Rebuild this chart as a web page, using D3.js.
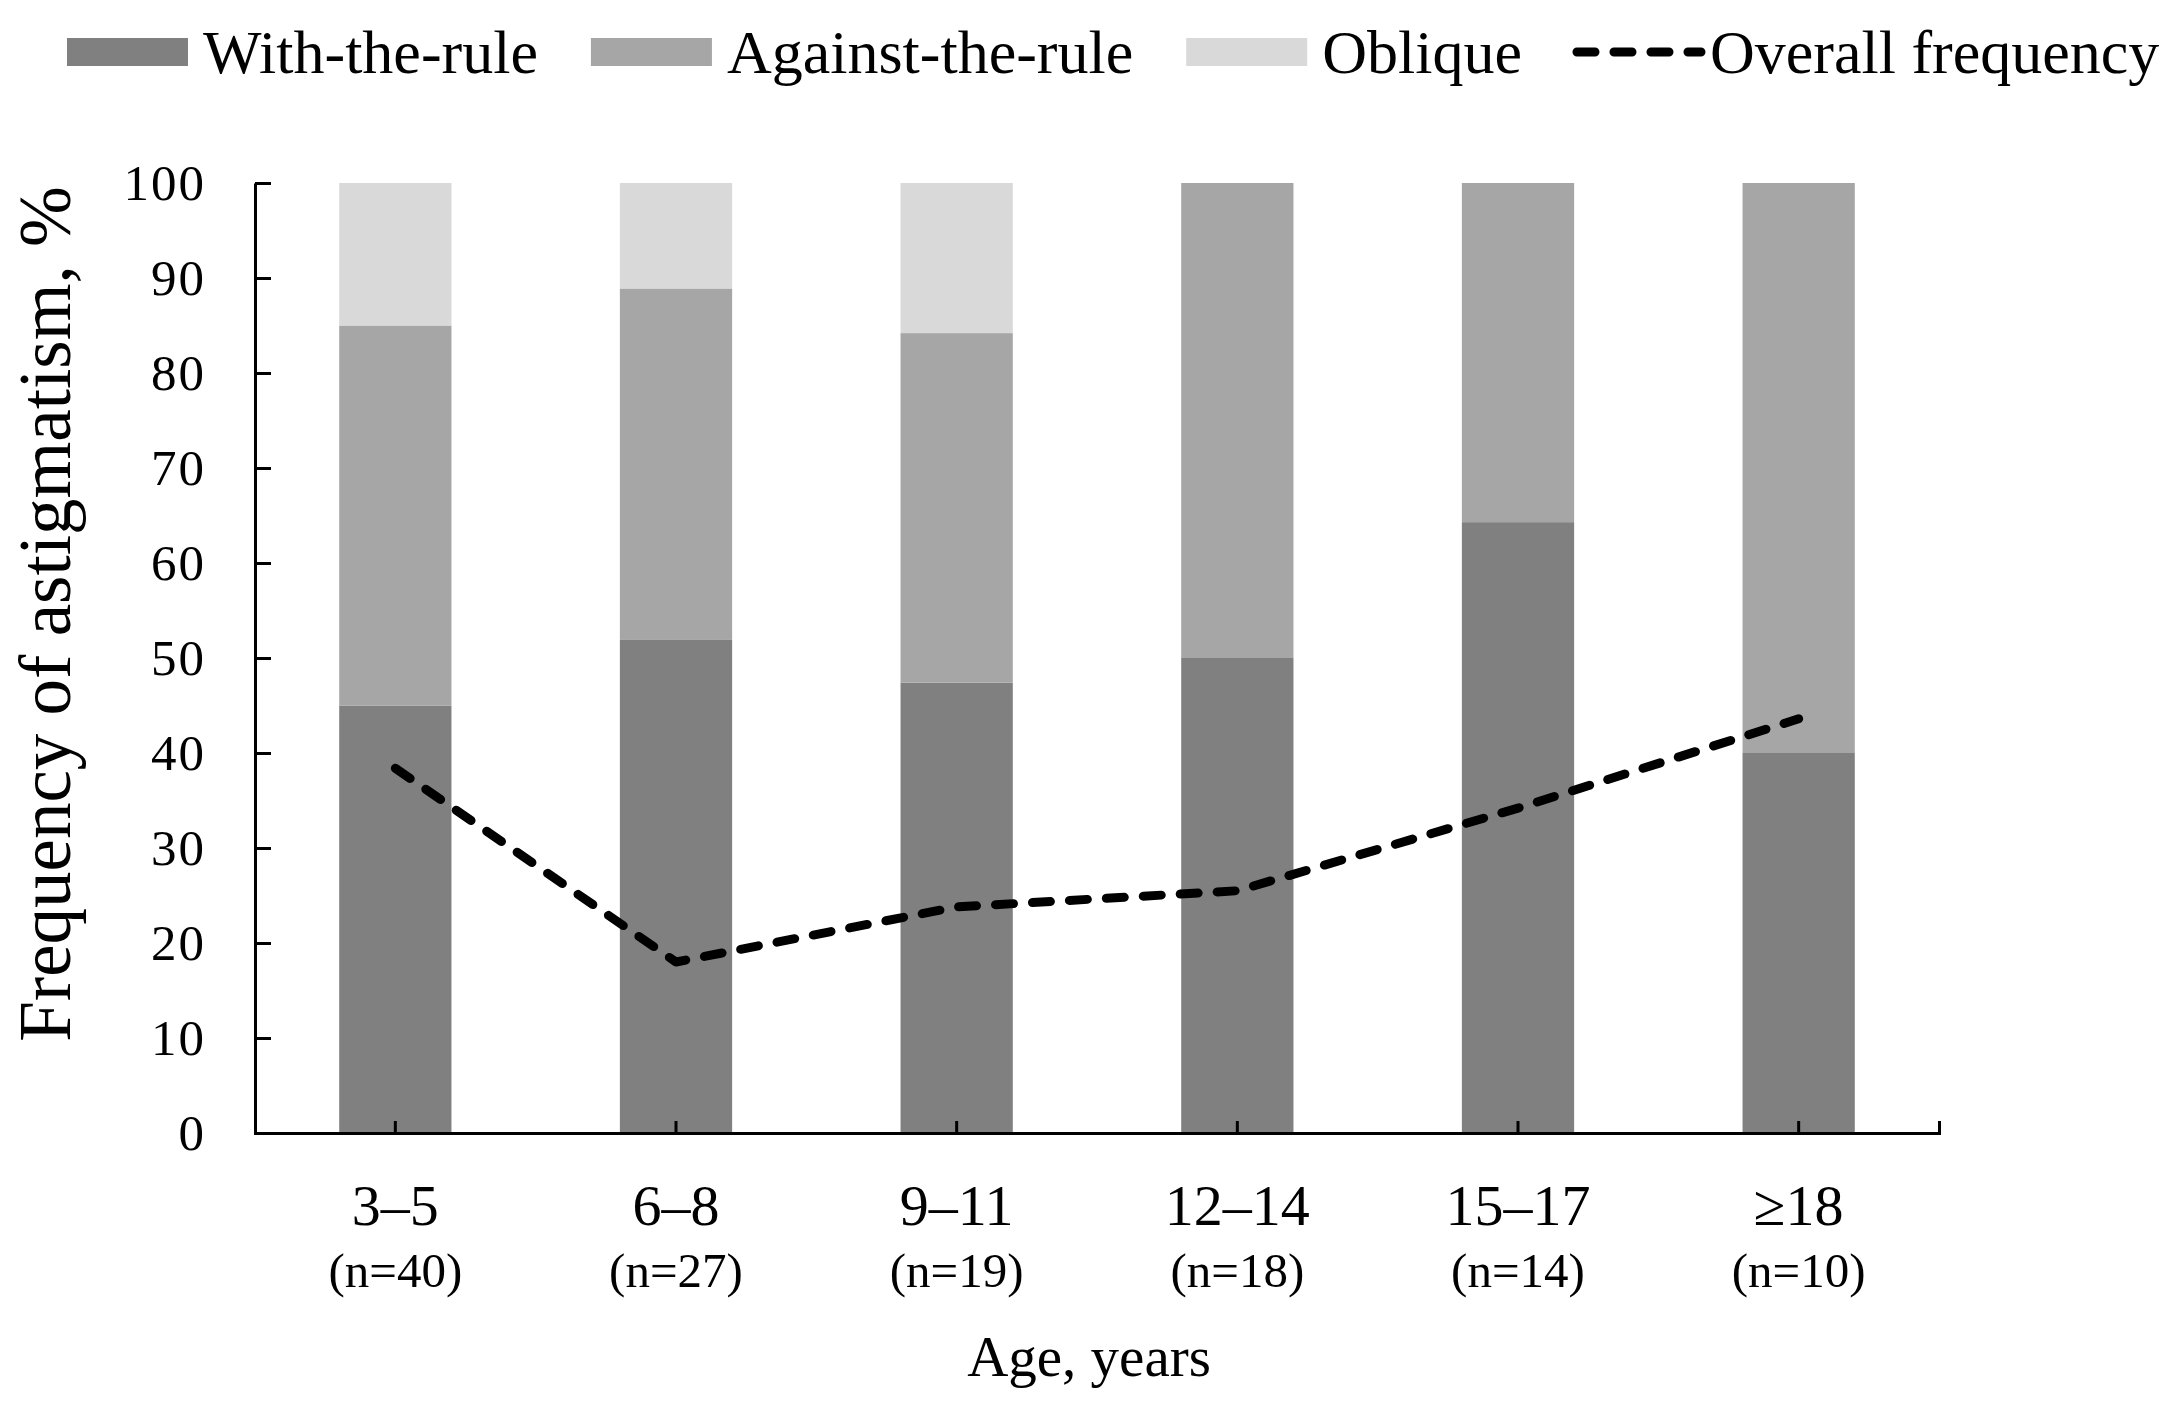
<!DOCTYPE html>
<html>
<head>
<meta charset="utf-8">
<script src="https://cdn.jsdelivr.net/npm/d3@7"></script>
<style>
  body { margin: 0; background: #fff; }
  svg text { font-family: "Liberation Serif", "Times New Roman", serif; fill: #000; }
</style>
</head>
<body>
<div id="chart"></div>
<script>
// data
var ageGroups = ["3\u20135", "6\u20138", "9\u201311", "12\u201314", "15\u201317", "\u226518"];
var groupSizes = ["(n=40)", "(n=27)", "(n=19)", "(n=18)", "(n=14)", "(n=10)"];
var withTheRule = [45, 51.9, 47.4, 50, 64.3, 40];
var againstTheRule = [40, 37.0, 36.8, 50, 35.7, 60];
var oblique = [15, 11.1, 15.8, 0, 0, 0];
var overallFrequency = [38.4, 18.0, 23.8, 25.5, 34.2, 43.6];
var seriesNames = ["With-the-rule", "Against-the-rule", "Oblique"];
var seriesColors = ["#808080", "#a6a6a6", "#d9d9d9"];
var yTicks = [0, 10, 20, 30, 40, 50, 60, 70, 80, 90, 100];

function renderChart() {

    var margin = { top: 183, right: 238, bottom: 274, left: 255 },
        fullWidth = 2177,
        fullHeight = 1407,
        width = fullWidth - margin.left - margin.right,
        height = fullHeight - margin.top - margin.bottom;

    var svg = d3.select("#chart").append("svg")
        .attr("width", fullWidth)
        .attr("height", fullHeight);

    var g = svg.append("g")
        .attr("transform", "translate(" + margin.left + "," + margin.top + ")");

    var x = d3.scaleBand()
        .domain(ageGroups)
        .range([0, width])
        .paddingInner(0.6)
        .paddingOuter(0.3);

    var y = d3.scaleLinear()
        .domain([0, 100])
        .range([height, 0]);

    // stack the three series
    var rows = ageGroups.map(function(a, i) {
        return { group: a, s0: withTheRule[i], s1: againstTheRule[i], s2: oblique[i] };
    });
    var stacked = d3.stack().keys(["s0", "s1", "s2"])(rows);

    g.selectAll(".layer")
        .data(stacked)
        .enter().append("g")
            .attr("class", "layer")
            .attr("fill", function(d, i) { return seriesColors[i]; })
        .selectAll("rect")
        .data(function(d) { return d.filter(function(v) { return v[1] - v[0] > 0; }); })
        .enter().append("rect")
            .attr("x", function(d) { return x(d.data.group); })
            .attr("y", function(d) { return y(d[1]); })
            .attr("width", x.bandwidth())
            .attr("height", function(d) { return y(d[0]) - y(d[1]); });

    // axes
    var yAxis = g.append("g")
        .call(d3.axisLeft(y).tickValues(yTicks).tickSizeInner(-16).tickSizeOuter(0).tickPadding(49));
    yAxis.selectAll("text").style("font-size", "51px").style("letter-spacing", "2px");

    g.append("g")
        .attr("transform", "translate(0," + height + ")")
        .call(d3.axisBottom(x).tickSizeInner(-12).tickSizeOuter(-12).tickFormat(""));

    g.selectAll(".domain, .tick line")
        .attr("stroke", "#000")
        .attr("stroke-width", 3);

    // category labels, two lines
    g.selectAll(".ageLabel")
        .data(ageGroups)
        .enter().append("text")
            .attr("class", "ageLabel")
            .attr("x", function(d) { return x(d) + x.bandwidth() / 2; })
            .attr("y", height + 92)
            .style("text-anchor", "middle")
            .style("font-size", "58px")
            .text(function(d) { return d; });

    g.selectAll(".nLabel")
        .data(groupSizes)
        .enter().append("text")
            .attr("class", "nLabel")
            .attr("x", function(d, i) { return x(ageGroups[i]) + x.bandwidth() / 2; })
            .attr("y", height + 154)
            .style("text-anchor", "middle")
            .style("font-size", "49px")
            .text(function(d) { return d; });

    g.append("text")
        .attr("x", width / 2 - 8)
        .attr("y", height + 243)
        .style("text-anchor", "middle")
        .style("font-size", "57px")
        .text("Age, years");

    svg.append("text")
        .attr("transform", "translate(70,614) rotate(-90)")
        .style("text-anchor", "middle")
        .style("font-size", "73px")
        .text("Frequency of astigmatism, %");

    // overall frequency line
    var line = d3.line()
        .x(function(d, i) { return x(ageGroups[i]) + x.bandwidth() / 2; })
        .y(function(d) { return y(d); });

    g.append("path")
        .datum(overallFrequency)
        .attr("d", line)
        .attr("fill", "none")
        .attr("stroke", "#000")
        .attr("stroke-width", 9)
        .attr("stroke-linecap", "round")
        .attr("stroke-linejoin", "round")
        .attr("stroke-dasharray", "18,19");

    // legend
    var legend = svg.append("g").attr("transform", "translate(67,52)");
    var cursor = 0, textEnd = 0;
    seriesNames.forEach(function(name, i) {
        legend.append("rect")
            .attr("x", cursor)
            .attr("y", -14)
            .attr("width", 121)
            .attr("height", 28)
            .attr("fill", seriesColors[i]);
        var t = legend.append("text")
            .attr("x", cursor + 136)
            .attr("y", 21)
            .style("font-size", "62px")
            .text(name);
        textEnd = cursor + 136 + t.node().getComputedTextLength();
        cursor = textEnd + 53;
    });
    var lx1 = textEnd + 55;
    legend.append("line")
        .attr("x1", lx1)
        .attr("x2", lx1 + 124)
        .attr("y1", 0)
        .attr("y2", 0)
        .attr("stroke", "#000")
        .attr("stroke-width", 9)
        .attr("stroke-linecap", "round")
        .attr("stroke-dasharray", "18,19");
    legend.append("text")
        .attr("x", lx1 + 133)
        .attr("y", 21)
        .style("font-size", "62px")
        .text("Overall frequency");
}

renderChart();
</script>
</body>
</html>
